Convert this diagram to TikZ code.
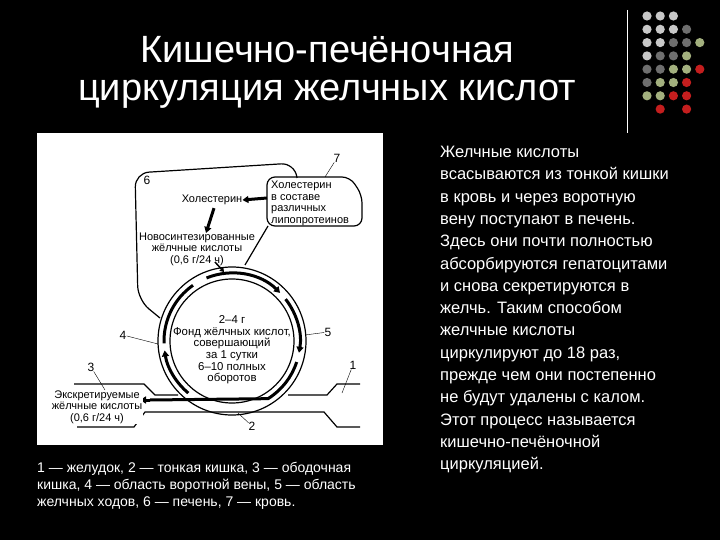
\documentclass[tikz,border=0pt]{standalone}
\usepackage{fontspec}
\setmainfont{Liberation Sans}
\usetikzlibrary{arrows.meta}
\definecolor{dL}{HTML}{C8C8C8}
\definecolor{dG}{HTML}{6E6E6E}
\definecolor{dO}{HTML}{A3B07E}
\definecolor{dR}{HTML}{C41E1E}
\begin{document}
\begin{tikzpicture}[x=1pt,y=-1pt,
  lbl/.style={font=\fontsize{11}{11.5}\selectfont,align=center,inner sep=0pt},
  num/.style={font=\fontsize{12}{12}\selectfont,inner sep=0pt},
  thk/.style={line width=3pt,-{Triangle[length=6pt,width=7pt]}},
  ln/.style={line width=1.2pt},
  wtxt/.style={text=white,align=left,inner sep=0pt,anchor=north west}]
\fill[black] (0,0) rectangle (720,540);
\useasboundingbox (0,0) rectangle (720,540);
% title
\node[text=white,font=\fontsize{38}{38}\selectfont,align=center] (title) at (327,72) {Кишечно-печёночная\\циркуляция желчных кислот};
% dots
\draw[white,line width=1pt] (627,10) -- (627,133);
\foreach \r/\cols in {0/{dL,dL,dL,,},1/{dL,dL,dL,dG,},2/{dL,dL,dG,dG,dO},3/{dL,dG,dG,dO,},4/{dG,dG,dO,dO,dR},5/{dG,dO,dO,dR,},6/{dO,dO,dR,dR,},7/{,dR,,dR,}}{
  \foreach \c [count=\i from 0] in \cols {
    \ifx\c\empty\else \fill[\c] (647+13.2*\i,16+13.3*\r) circle (4.6);\fi
  }}
% white panel
\fill[white] (37,133) rectangle (383,445);
% liver
\draw[ln,rounded corners=14pt] (160,318) -- (138,300) -- (135,173) -- (295,163) -- (297,178);
\draw[ln] (268,226) -- (245,265);
% box 7
\draw[ln,rounded corners=8pt] (267,177) -- (350,177) -- (362,195) -- (362,226) -- (267,226) -- cycle;
\node[lbl,align=left,anchor=north west] (b7) at (271,181) {Холестерин\\в составе\\различных\\липопротеинов};
\node[num] (n7) at (337,158) {7};
\draw (n7) -- (325,177);
\node[num] (n6) at (147,180) {6};
% texts
\node[lbl] (chol) at (212,200) {Холестерин};
\draw[thk] (267,198) -- (chol.east);
\node[lbl] (nov) at (197,249) {Новосинтезированные\\жёлчные кислоты\\(0,6 г/24 ч)};
\draw[thk] (chol.south) ++(2,3) -- (206,233);
\coordinate (ringtop) at (224,272);
\draw[line width=1.5pt,-{Triangle[length=4pt,width=5pt]}] (215,262) -- (ringtop);
% ring
\coordinate (C) at (232,341);
\draw[ln] (C) circle (74);
\draw[ln] (C) circle (62);
\node[lbl,font=\fontsize{11.4}{11.6}\selectfont] (pool) at (232,350) {2–4 г\\Фонд жёлчных кислот,\\совершающий\\за 1 сутки\\6–10 полных\\оборотов};
\draw[thk] ([shift={(-112:68)}]C) arc[start angle=-112,end angle=-45,radius=68];
\draw[thk] ([shift={(-38:68)}]C) arc[start angle=-38,end angle=10,radius=68];
\draw[line width=3pt] ([shift={(18:68)}]C) arc[start angle=18,end angle=58,radius=68] -- (150,400);
\draw[thk] (150,400) -- (140,400);
\draw[thk] ([shift={(130:68)}]C) arc[start angle=130,end angle=172,radius=68];
\draw[line width=3pt] ([shift={(178:68)}]C) arc[start angle=178,end angle=235,radius=68];
% intestine
\draw[ln] (74,384) -- (144,384) -- (155,395) -- (178,395);
\draw[ln] (360,384) -- (337,384) -- (327,395) -- (288,395);
\draw[ln] (77,427) -- (134,427) -- (145,412) -- (324,412) -- (337,427) -- (360,427);
\node[lbl,fill=white,inner sep=1pt] (exc) at (97,407) {Экскретируемые\\жёлчные кислоты\\(0,6 г/24 ч)};
% numbers
\node[num] (n4) at (123,335) {4}; \draw (n4) -- (158,344);
\node[num] (n5) at (328,332) {5}; \draw (n5) -- (305,335);
\node[num] (n3) at (91,367) {3}; \draw (n3) -- (105,390);
\node[num] (n1) at (353,365) {1}; \draw (n1) -- (342,393);
\node[num] (n2) at (252,426) {2}; \draw (n2) -- (238,413);
% caption
\node[wtxt,font=\fontsize{14}{17}\selectfont] (cap) at (37,462) {1 — желудок, 2 — тонкая кишка, 3 — ободочная\\кишка, 4 — область воротной вены, 5 — область\\желчных ходов, 6 — печень, 7 — кровь.};
% right text
\node[wtxt,font=\fontsize{16.5}{22.3}\selectfont] (body) at (440,146) {Желчные кислоты\\всасываются из тонкой кишки\\в кровь и через воротную\\вену поступают в печень.\\Здесь они почти полностью\\абсорбируются гепатоцитами\\и снова секретируются в\\желчь. Таким способом\\желчные кислоты\\циркулируют до 18 раз,\\прежде чем они постепенно\\не будут удалены с калом.\\Этот процесс называется\\кишечно-печёночной\\циркуляцией.};
\end{tikzpicture}
\end{document}
